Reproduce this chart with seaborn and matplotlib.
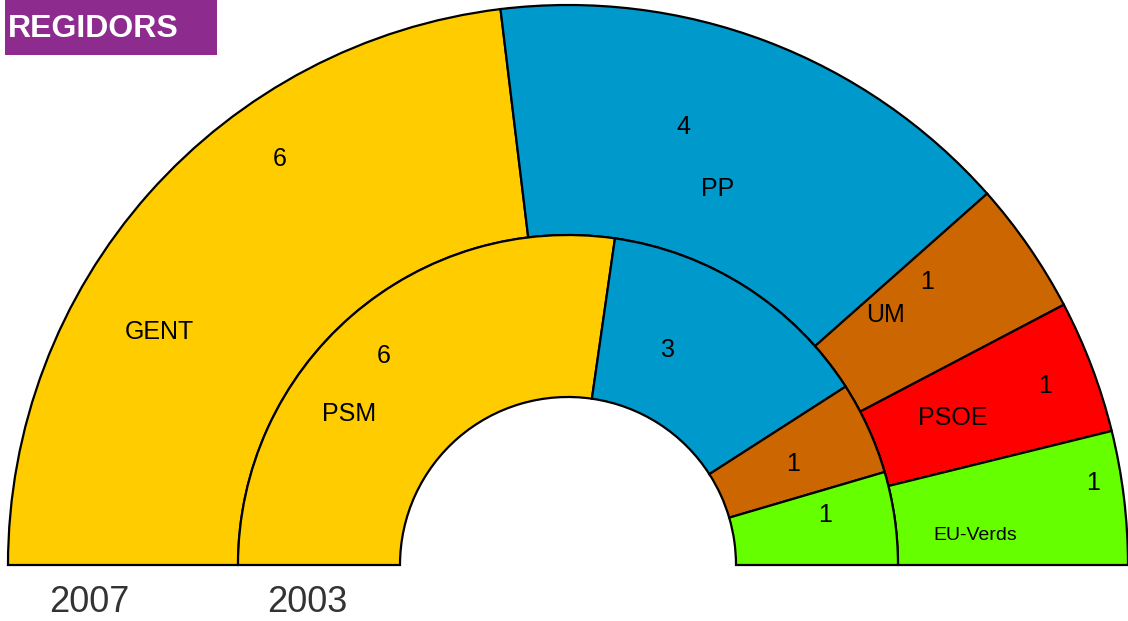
import matplotlib
matplotlib.use("Agg")
import matplotlib.pyplot as plt
from matplotlib.patches import Rectangle
import seaborn as sns

# ---- data ----
parties_2007 = ["GENT", "PP", "UM", "PSOE", "EU-Verds"]
seats_2007 = [6, 4, 1, 1, 1]
parties_2003 = ["PSM", "PP", "UM", "EU"]
seats_2003 = [6, 3, 1, 1]
ring_labels = ["2007", "2003"]
title = "REGIDORS"

colors_2007 = ["#FFCC00", "#0099CC", "#CC6600", "#FF0000", "#66FF00"]
colors_2003 = ["#FFCC00", "#0099CC", "#CC6600", "#66FF00"]

# ---- layout (pixel coords of the reference, centre of text) ----
CX, CY = 568, 565
def d(px, py):
    return px - CX, CY - py

num_pos_2007 = [(280, 157), (683, 125), (927, 280), (1045, 384), (1093, 481)]
name_pos_2007 = [(159, 330), (718, 187), (886, 313), (953, 416), (975, 533)]
num_pos_2003 = [(384, 354), (668, 348), (793, 462), (825, 513)]
name_pos_2003 = [(349, 412), None, None, None]

sns.set_theme(style="white")
plt.rcParams["font.family"] = ["Liberation Sans", "DejaVu Sans"]

fig = plt.figure(figsize=(11.28, 6.21), dpi=100)
ax = fig.add_axes([0, 0, 1, 1])

wp = dict(edgecolor="black", linewidth=1.6)
w_out, _ = ax.pie(seats_2007 + [sum(seats_2007)], radius=560, startangle=180,
                  counterclock=False, colors=colors_2007 + ["white"],
                  wedgeprops=dict(width=230, **wp))
w_out[-1].set_visible(False)
w_in, _ = ax.pie(seats_2003 + [sum(seats_2003)], radius=330, startangle=180,
                 counterclock=False, colors=colors_2003 + ["white"],
                 wedgeprops=dict(width=162, **wp))
w_in[-1].set_visible(False)

ax.set_xlim(-CX, 1128 - CX)
ax.set_ylim(CY - 621, CY)
ax.set_aspect("equal")
ax.axis("off")

PX_PER_PT = 100 / 72.0
def label(pos, s, size):
    if pos is None:
        return
    cap = 0.716 * size * PX_PER_PT
    x, y = d(pos[0], pos[1] + cap / 2)
    ax.text(x, y, s, ha="center", va="baseline", fontsize=size, color="black")

for i, p in enumerate(parties_2007):
    label(num_pos_2007[i], str(seats_2007[i]), 18)
    label(name_pos_2007[i], p, 14 if p == "EU-Verds" else 18)
for i, p in enumerate(parties_2003):
    label(num_pos_2003[i], str(seats_2003[i]), 18)
    label(name_pos_2003[i], p, 18)

# ring year labels
for s, px in zip(ring_labels, [89, 307]):
    x, y = d(px, 612)
    ax.text(x, y, s, ha="center", va="baseline", fontsize=26, color="#333333")

# title box
x0, y0 = d(5, 55)
ax.add_patch(Rectangle((x0, y0), 212, 56, facecolor="#8E2B8E", edgecolor="none",
                       clip_on=False, zorder=5))
tx, ty = d(93, 37)
ax.text(tx, ty, title, ha="center", va="baseline", fontsize=23, fontweight="bold",
        color="white", zorder=6)

fig.savefig("out.png", dpi=100)
